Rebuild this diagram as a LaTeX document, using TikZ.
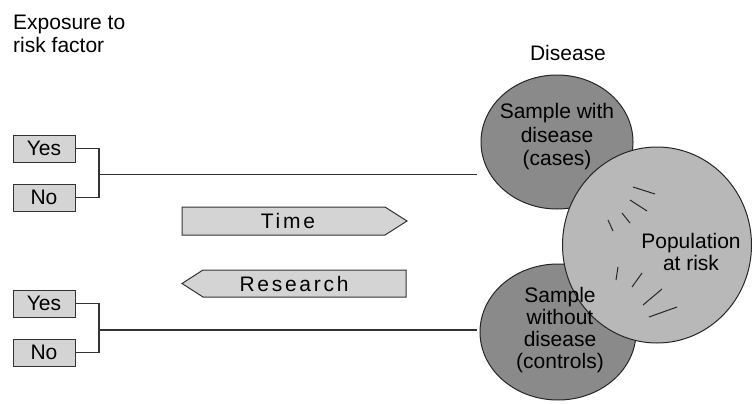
\documentclass[tikz,border=0pt]{standalone}
\usepackage{fontspec}
\setmainfont{Liberation Sans}
\usetikzlibrary{shapes.geometric}
\definecolor{darkc}{RGB}{138,138,138}
\definecolor{bigc}{RGB}{184,184,184}
\definecolor{boxc}{RGB}{212,212,212}
\begin{document}
\begin{tikzpicture}[x=1pt,y=-1pt,
  txt/.style={font=\fontsize{21}{23}\selectfont, inner sep=0pt, align=center},
  choice/.style={draw=black!80, fill=boxc, line width=1pt, minimum width=62pt, minimum height=27pt, inner sep=0pt, font=\fontsize{21}{22}\selectfont},
  conn/.style={draw=black!80, line width=1.1pt},
  ring/.style={draw=black!85, line width=1pt},
  tick/.style={draw=black!85, line width=1pt},
  spaced/.style={inner sep=0pt, font=\fontsize{21}{22}\selectfont\addfontfeature{LetterSpace=13}}
]
\useasboundingbox (0,0) rectangle (752,404);

% heading
\node[txt, align=left, anchor=west] (head) at (13,34) {Exposure to\\risk factor};
\node[txt] (dis) at (568,53) {Disease};

% choice boxes
\node[choice] (y1) at (44,148.5) {Yes};
\node[choice] (n1) at (44,197.5) {No};
\node[choice] (y2) at (44,303.5) {Yes};
\node[choice] (n2) at (44,352.5) {No};

\coordinate (j1) at (99,174.5);
\coordinate (j2) at (99,330);
\coordinate (e1) at (477,174.5);
\coordinate (e2) at (477,330);

\draw[conn] (y1.east) -| (j1) |- (n1.east);
\draw[conn] (j1) -- (e1);
\draw[conn] (y2.east) -| (j2) |- (n2.east);
\draw[conn] (j2) -- (e2);

% arrows
\draw[draw=black!80, fill=boxc, line width=1pt] (182,207) -- (385,207) -- (407,221) -- (385,235) -- (182,235) -- cycle;
\node[spaced] (time) at (288,221) {Time};
\draw[draw=black!80, fill=boxc, line width=1pt] (406,270) -- (203,270) -- (182,283.5) -- (203,297) -- (406,297) -- cycle;
\node[spaced] (res) at (294,283.5) {Research};

% circles
\node[ring, fill=darkc, ellipse, minimum width=152pt, minimum height=134pt, inner sep=0pt] (cases) at (557,142) {};
\node[ring, fill=darkc, ellipse, minimum width=156pt, minimum height=136pt, inner sep=0pt] (ctrl) at (558,332) {};
\node[ring, fill=bigc, ellipse, minimum width=189pt, minimum height=196pt, inner sep=0pt] (pop) at (657,245) {};

% ticks
\draw[tick] (633,187) -- (655,194);
\draw[tick] (630,200) -- (647,211);
\draw[tick] (622,213) -- (630,223);
\draw[tick] (608,220) -- (613,231);
\draw[tick] (618,267) -- (616,280);
\draw[tick] (642,273) -- (632,287);
\draw[tick] (662,289) -- (643,305);
\draw[tick] (677,307) -- (649,317);

% circle texts
\node[txt, font=\fontsize{21}{23.5}\selectfont] (tcases) at (557,137) {Sample with\\disease\\(cases)};
\node[txt, font=\fontsize{21}{21.8}\selectfont] (tctrl) at (560,330) {Sample\\without\\disease\\(controls)};
\node[txt, font=\fontsize{21}{22}\selectfont] (tpop) at (691,252) {Population\\at risk};
\end{tikzpicture}
\end{document}
